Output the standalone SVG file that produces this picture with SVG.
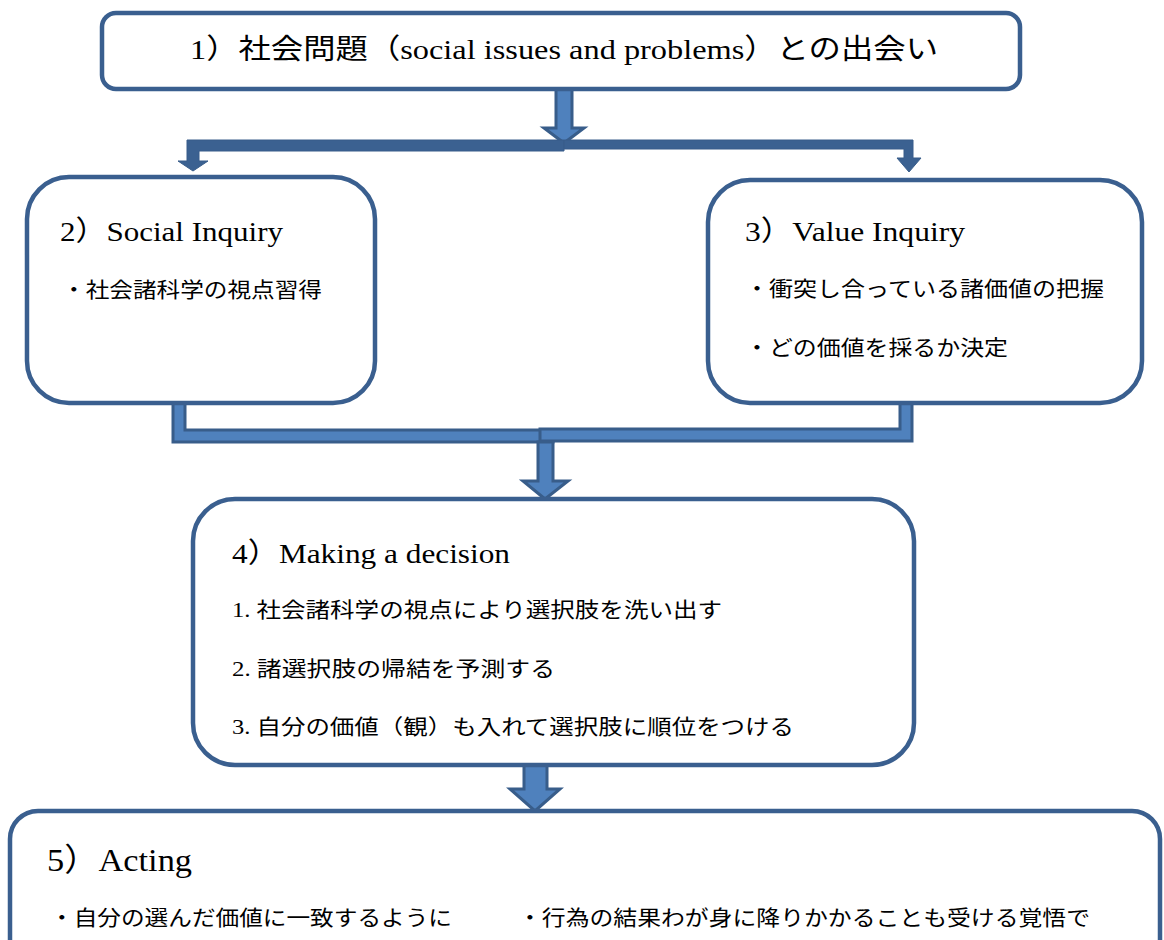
<svg xmlns="http://www.w3.org/2000/svg" width="1164" height="940" viewBox="0 0 1164 940">
<style>
.box{fill:#fff;stroke:#3A5F8F;stroke-width:4.5}
.t{font-family:"Liberation Serif","Noto Sans CJK JP",serif;fill:#000}
.h{font-size:28px}
.b{font-size:21px}
.arr{fill:#4F81BD;stroke:#385D8A;stroke-width:3;stroke-linejoin:miter}
.dark{fill:#3B6191;stroke:#385D8A;stroke-width:1}
</style>
<rect width="1164" height="940" fill="#fff"/>
<g id="connectors">
<path class="arr" d="M556,89 L572,89 L572,128 L584,128 L564,143 L544,128 L556,128 Z"/>
<path class="dark" d="M564,140 L187,140 L187,161 L178,161 L193,171 L208,161 L199,161 L199,151 L564,151 Z"/>
<path class="dark" d="M564,140 L913,140 L913,158 L921,158 L909,172 L897,158 L904,158 L904,149 L564,149 Z"/>
<path class="arr" d="M173,403 L185,403 L185,430 L553,430 L553,442 L173,442 Z"/>
<path class="arr" d="M912,403 L900,403 L900,429 L540,429 L540,441 L912,441 Z"/>
<path class="arr" d="M538,442 L553,442 L553,481 L568,481 L545,499 L523,481 L538,481 Z"/>
<path class="arr" d="M524,765 L547,765 L547,789 L560,789 L535,811 L510,789 L524,789 Z"/>
</g>
<g id="node1">
<rect class="box" x="102" y="13" width="918" height="76" rx="14"/>
<text class="t h" x="190" y="59" textLength="748" lengthAdjust="spacingAndGlyphs">1）社会問題（social issues and problems）との出会い</text>
</g>
<g id="node2">
<rect class="box" x="27" y="177" width="348" height="226" rx="42"/>
<text class="t h" x="60" y="241" textLength="223" lengthAdjust="spacingAndGlyphs">2）Social Inquiry</text>
<text class="t b" x="62" y="297" textLength="260" lengthAdjust="spacingAndGlyphs">・社会諸科学の視点習得</text>
</g>
<g id="node3">
<rect class="box" x="708" y="180" width="434" height="223" rx="42"/>
<text class="t h" x="745" y="241" textLength="220" lengthAdjust="spacingAndGlyphs">3）Value Inquiry</text>
<text class="t b" x="745" y="296" textLength="359" lengthAdjust="spacingAndGlyphs">・衝突し合っている諸価値の把握</text>
<text class="t b" x="745" y="355" textLength="263" lengthAdjust="spacingAndGlyphs">・どの価値を採るか決定</text>
</g>
<g id="node4">
<rect class="box" x="193" y="499" width="721" height="266" rx="42"/>
<text class="t h" x="232" y="563" textLength="278" lengthAdjust="spacingAndGlyphs">4）Making a decision</text>
<text class="t b" x="232" y="617" textLength="490" lengthAdjust="spacingAndGlyphs">1.  社会諸科学の視点により選択肢を洗い出す</text>
<text class="t b" x="232" y="676" textLength="323" lengthAdjust="spacingAndGlyphs">2.  諸選択肢の帰結を予測する</text>
<text class="t b" x="232" y="734" textLength="562" lengthAdjust="spacingAndGlyphs">3.  自分の価値（観）も入れて選択肢に順位をつける</text>
</g>
<g id="node5">
<rect class="box" x="10" y="811" width="1150" height="170" rx="28"/>
<text class="t" font-size="32" x="47" y="871" textLength="145" lengthAdjust="spacingAndGlyphs">5）Acting</text>
<text class="t b" x="50" y="925" textLength="402" lengthAdjust="spacingAndGlyphs">・自分の選んだ価値に一致するように</text>
<text class="t b" x="518" y="925" textLength="572" lengthAdjust="spacingAndGlyphs">・行為の結果わが身に降りかかることも受ける覚悟で</text>
</g>
</svg>
